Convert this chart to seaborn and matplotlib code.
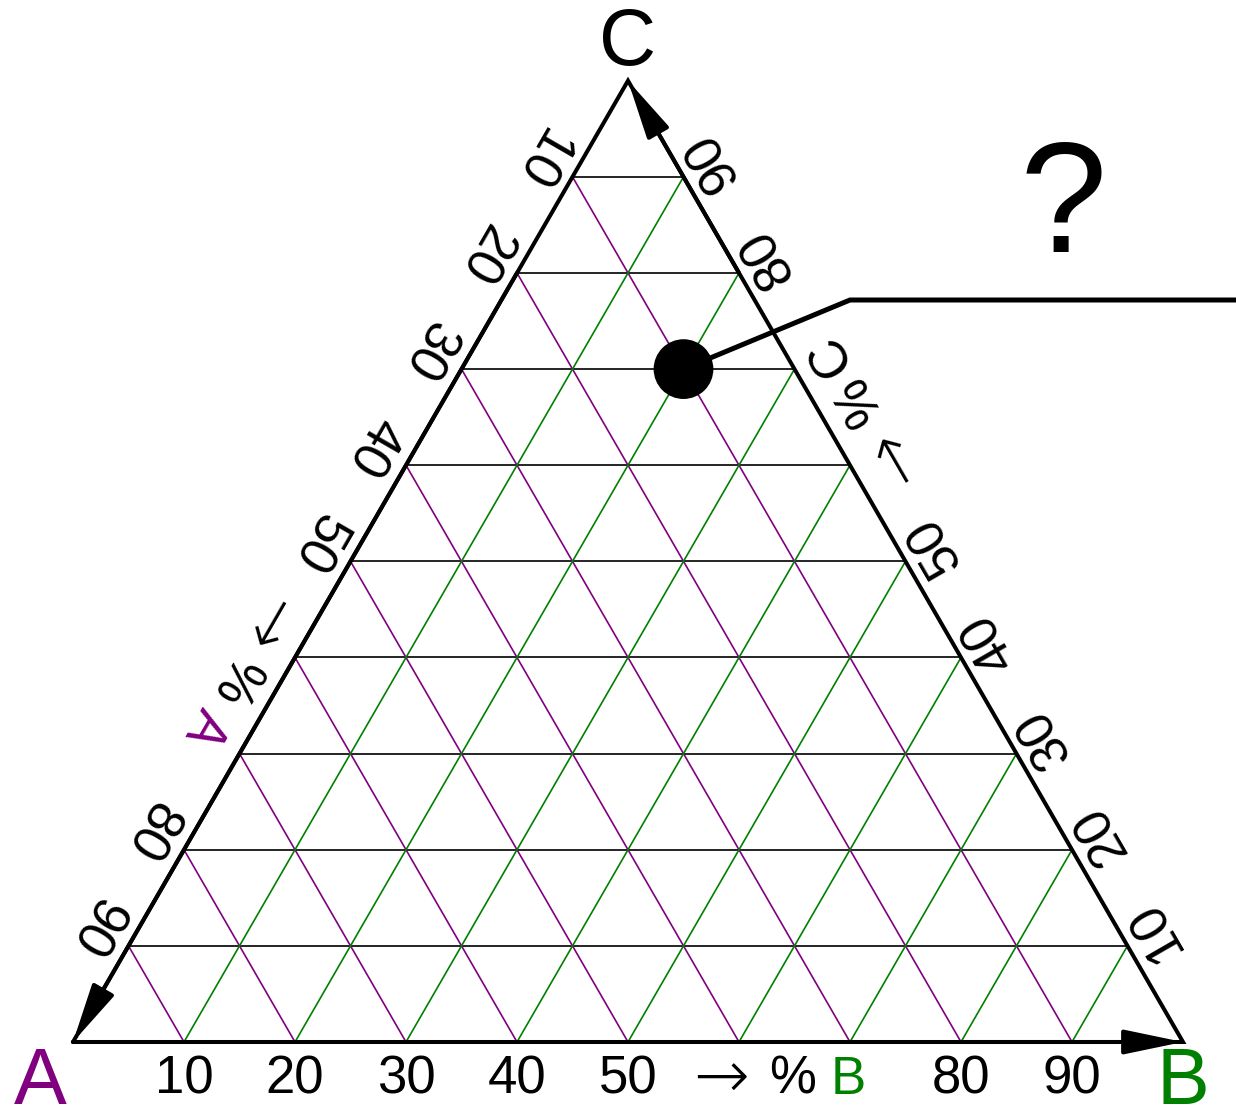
import numpy as np
import pandas as pd
import seaborn as sns
import matplotlib.pyplot as plt
from matplotlib.patches import FancyArrowPatch

# grid levels (percent)
levels = [10, 20, 30, 40, 50, 60, 70, 80, 90]
# tick labels on each side, blanks where the axis title sits
bottom_labels = ["10", "20", "30", "40", "50", "", "", "80", "90"]   # B %
left_labels = ["10", "20", "30", "40", "50", "", "", "80", "90"]     # A %
right_labels = ["10", "20", "30", "40", "50", "", "", "80", "90"]    # C %
# the marked composition
point_a = [10]
point_b = [20]
point_c = [70]

sns.set_style("white")
plt.rcParams['font.family'] = ['Liberation Sans', 'DejaVu Sans']
plt.rcParams['text.color'] = 'black'

S = 1110.0  # pixels per unit side
H = np.sqrt(3) / 2


def tern(a, b, c):
    a, b, c = np.asarray(a, float), np.asarray(b, float), np.asarray(c, float)
    tot = a + b + c
    return (b + c / 2) / tot, (c * H) / tot


# grid line segments
rows = []
seg = 0
for v in levels:
    for fam, p0, p1 in [
        ("C", (100 - v, 0, v), (0, 100 - v, v)),
        ("A", (v, 100 - v, 0), (v, 0, 100 - v)),
        ("B", (100 - v, v, 0), (0, v, 100 - v)),
    ]:
        for p in (p0, p1):
            x, y = tern(*p)
            rows.append({"x": x, "y": y, "family": fam, "seg": seg})
        seg += 1
grid = pd.DataFrame(rows)

fig = plt.figure(figsize=(12.36, 11.2), dpi=100)
ax = fig.add_axes([0, 0, 1, 1])

sns.lineplot(data=grid, x="x", y="y", hue="family", units="seg", estimator=None,
             sort=False, palette={"A": "purple", "B": "green", "C": "black"},
             lw=1.2, legend=False, ax=ax, zorder=1)

# triangle edges
corners_x, corners_y = tern([100, 0, 0, 100], [0, 100, 0, 0], [0, 0, 100, 0])
ax.plot(corners_x, corners_y, color="black", lw=2.9, solid_joinstyle="miter", zorder=3)

# arrowheads: C->A on left, A->B on bottom, B->C on right
for start, end in [((20, 0, 80), (100, 0, 0)),
                   ((20, 80, 0), (0, 100, 0)),
                   ((0, 20, 80), (0, 0, 100))]:
    arr = FancyArrowPatch(tern(*start), tern(*end),
                          arrowstyle="-|>,head_length=36,head_width=7.5",
                          mutation_scale=1, shrinkA=0, shrinkB=0,
                          color="black", lw=2.9, zorder=4)
    ax.add_patch(arr)

fs = 38
# bottom ticks (B)
for v, lab in zip(levels, bottom_labels):
    if lab:
        x, y = tern(100 - v, v, 0)
        ax.text(x, y - 38 / S, lab, fontsize=fs, ha="center", va="center")
# left ticks (A)
nl = np.array([-np.sqrt(3) / 2, 0.5])
for v, lab in zip(levels, left_labels):
    if lab:
        x, y = tern(v, 0, 100 - v)
        ax.text(x + nl[0] * 38 / S, y + nl[1] * 38 / S, lab, fontsize=fs,
                rotation=240, rotation_mode="anchor", ha="center", va="center")
# right ticks (C)
nr = np.array([np.sqrt(3) / 2, 0.5])
for v, lab in zip(levels, right_labels):
    if lab:
        x, y = tern(0, 100 - v, v)
        ax.text(x + nr[0] * 32 / S, y + nr[1] * 32 / S, lab, fontsize=fs,
                rotation=120, rotation_mode="anchor", ha="center", va="center")


def piece(s, col):
    if s == "→":
        return dict(fontsize=48, color=col, family=['DejaVu Sans'], fontweight="light")
    return dict(fontsize=fs, color=col, family=['Liberation Sans', 'DejaVu Sans'])


# side titles
for t, off, s, col in [(0.584, 38, "→", "black"), (0.648, 38, "%", "black"),
                       (0.698, 38, "B", "green")]:
    ax.text(t, -off / S, s, ha="center", va="center", **piece(s, col))
for t, off, s, col in [(0.413, 44, "→", "black"), (0.355, 41, "%", "black"),
                       (0.305, 43, "A", "purple")]:
    x, y = tern(1 - t, 0, t)
    ax.text(x + nl[0] * off / S, y + nl[1] * off / S, s,
            rotation=240, rotation_mode="anchor", ha="center", va="center", **piece(s, col))
for t, off, s, col in [(0.588, 42, "→", "black"), (0.647, 40, "%", "black"),
                       (0.695, 38, "C", "black")]:
    x, y = tern(0, 1 - t, t)
    ax.text(x + nr[0] * off / S, y + nr[1] * off / S, s,
            rotation=120, rotation_mode="anchor", ha="center", va="center", **piece(s, col))

# corner labels
ax.text(-33 / S, -42 / S, "A", fontsize=57, color="purple", ha="center", va="center")
ax.text(1.0, -42 / S, "B", fontsize=57, color="green", ha="center", va="center")
ax.text(0.5, H + 36 / S, "C", fontsize=57, color="black", ha="center", va="center")

# marked point with leader line
px, py = tern(point_a, point_b, point_c)
elbow_x, elbow_y = (850 - 73) / S, (1042 - 300) / S
ax.plot([px[0], elbow_x, 1.2], [py[0], elbow_y, elbow_y], color="black", lw=3.6,
        solid_joinstyle="miter", zorder=5)
sns.scatterplot(x=px, y=py, s=1850, color="black", edgecolor="none", ax=ax, zorder=6)
ax.text((1063 - 73) / S, (1042 - 212) / S, "?", fontsize=113, ha="center", va="center")

ax.set_xlim(-73 / S, (1236 - 73) / S)
ax.set_ylim(-(1120 - 1042) / S, 1042 / S)
ax.axis("off")

fig.savefig("out.png", dpi=100)
